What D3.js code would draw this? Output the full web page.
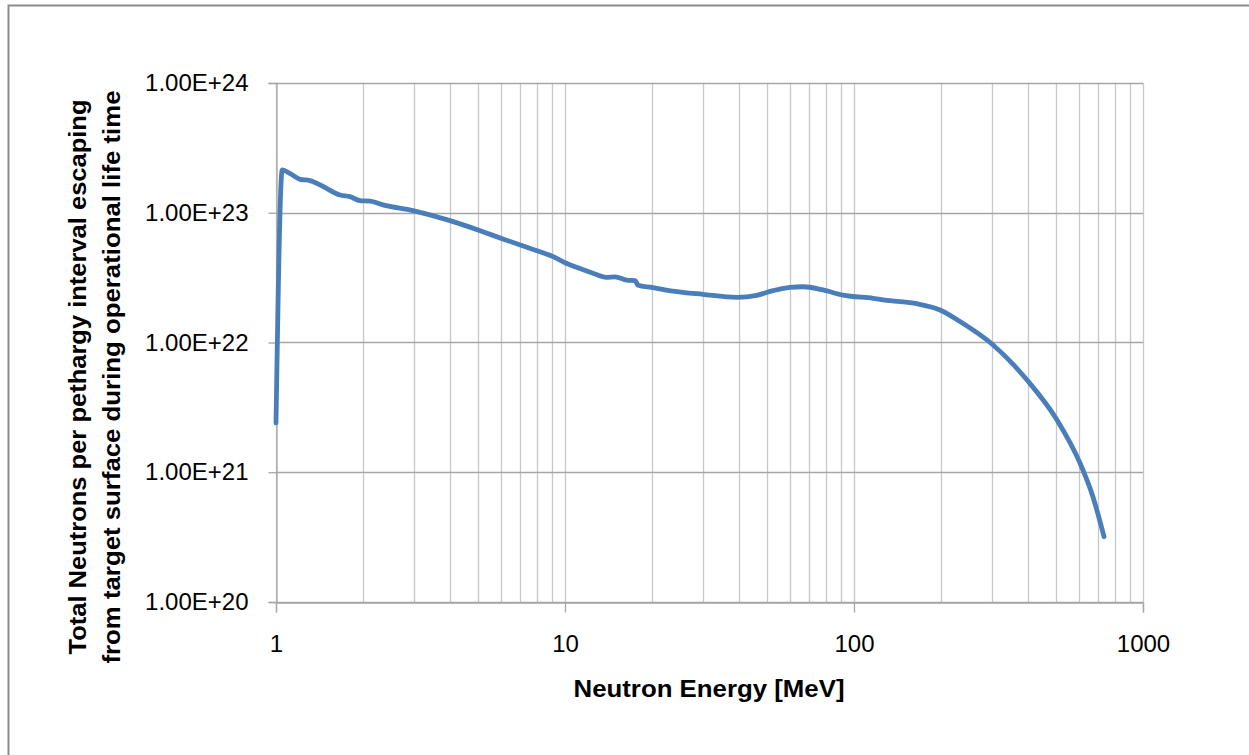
<!DOCTYPE html>
<html>
<head>
<meta charset="utf-8">
<script src="https://cdn.jsdelivr.net/npm/d3@7"></script>
<style>
  html, body { margin: 0; padding: 0; background: #fff; }
  svg { display: block; }
  .tick-label { font-family: "Liberation Sans", Arial, sans-serif; font-size: 24px; fill: #000; }
  .axis-title { font-family: "Liberation Sans", Arial, sans-serif; font-weight: bold; fill: #000; }
</style>
</head>
<body>
<svg id="chart" width="1249" height="755"></svg>
<script>
// Neutron energy (MeV) and escaping neutrons per lethargy interval
const energy = [
  1.0, 1.051, 1.12, 1.211, 1.311, 1.45, 1.665, 1.803, 1.953, 2.115, 2.345,
  2.98, 4.0, 5.2, 6.1, 8.19, 9.0, 10.0, 10.98, 12.5, 13.9, 14.9, 16.35,
  17.5, 17.9, 19.95, 23.6, 30.0, 39.3, 46.1, 52.5, 60.0, 66.6, 78.1, 91.6,
  116.4, 133.2, 165, 198.5, 232.7, 302.9, 396.9, 504, 605, 671, 733
];
const neutrons = [
  2.4e21, 2.14e23, 2.0e23, 1.81e23, 1.77e23, 1.6e23, 1.37e23, 1.33e23, 1.24e23, 1.23e23, 1.15e23,
  1.04e23, 8.69e22, 7.14e22, 6.28e22, 5.01e22, 4.64e22, 4.12e22, 3.80e22, 3.42e22, 3.18e22, 3.21e22, 3.03e22,
  3.0e22, 2.76e22, 2.66e22, 2.49e22, 2.35e22, 2.23e22, 2.31e22, 2.51e22, 2.66e22, 2.69e22, 2.54e22, 2.32e22,
  2.19e22, 2.10e22, 1.99e22, 1.78e22, 1.45e22, 9.57e21, 5.14e21, 2.53e21, 1.18e21, 6.48e20, 3.19e20
];

const xTickValues = [1, 10, 100, 1000];
const yTickValues = [1e20, 1e21, 1e22, 1e23, 1e24];

const xTitle = "Neutron Energy [MeV]";
const yTitleLines = [
  "Total Neutrons per pethargy interval escaping",
  "from target surface during operational life time"
];

const svg = d3.select("#chart");

// chart frame
svg.append("rect")
  .attr("x", 8.5).attr("y", 5.5)
  .attr("width", 1300).attr("height", 800)
  .attr("fill", "#fff")
  .attr("stroke", "#8c8c8c").attr("stroke-width", 2);

const x = d3.scaleLog().domain([1, 1000]).range([276, 1143]);
const y = d3.scaleLog().domain([1e20, 1e24]).range([602, 83]);

// vertical grid lines at 1..9 of each decade
const grid = svg.append("g");
grid.selectAll("line.vx")
  .data(x.ticks())
  .join("line")
  .attr("class", "vx")
  .attr("x1", d => Math.round(x(d)) + 0.5).attr("x2", d => Math.round(x(d)) + 0.5)
  .attr("y1", y(1e24)).attr("y2", y(1e20))
  .attr("stroke", "#c8c8c8").attr("stroke-width", 1.3);

// horizontal grid lines at each decade
grid.selectAll("line.hy")
  .data(yTickValues)
  .join("line")
  .attr("class", "hy")
  .attr("x1", x(1)).attr("x2", x(1000))
  .attr("y1", d => Math.round(y(d)) + 0.5).attr("y2", d => Math.round(y(d)) + 0.5)
  .attr("stroke", "#a6a6a6").attr("stroke-width", 1.3);

// y axis
const yAxis = svg.append("g")
  .attr("transform", `translate(${x(1) + 0.5},0)`)
  .call(d3.axisLeft(y).tickValues(yTickValues).tickSize(8).tickPadding(20)
    .tickFormat(d => d.toExponential(2).toUpperCase()));
yAxis.select(".domain").attr("stroke", "#a6a6a6").attr("stroke-width", 1.3);
yAxis.selectAll(".tick line").attr("stroke", "#a6a6a6").attr("stroke-width", 1.3);
yAxis.selectAll(".tick text").attr("class", "tick-label");
yAxis.attr("font-size", null).attr("font-family", null);

// x axis
const xAxis = svg.append("g")
  .attr("transform", `translate(0,${Math.round(y(1e20)) + 0.5})`)
  .call(d3.axisBottom(x).tickValues(xTickValues).tickSize(10).tickPadding(22)
    .tickFormat(d3.format("d")));
xAxis.select(".domain").attr("stroke", "#a6a6a6").attr("stroke-width", 1.3);
xAxis.selectAll(".tick line").attr("stroke", "#a6a6a6").attr("stroke-width", 1.3);
xAxis.selectAll(".tick text").attr("class", "tick-label");
xAxis.attr("font-size", null).attr("font-family", null);

// spectrum line
const line = d3.line()
  .x((d, i) => x(energy[i]))
  .y((d, i) => y(neutrons[i]))
  .curve(d3.curveMonotoneX);

svg.append("path")
  .datum(neutrons)
  .attr("d", line)
  .attr("fill", "none")
  .attr("stroke", "#4a7ebb")
  .attr("stroke-width", 4.8)
  .attr("stroke-linejoin", "round")
  .attr("stroke-linecap", "round");

// axis titles
svg.append("text")
  .attr("class", "axis-title")
  .attr("x", 709).attr("y", 697)
  .attr("text-anchor", "middle")
  .attr("font-size", 24)
  .attr("textLength", 271)
  .attr("lengthAdjust", "spacingAndGlyphs")
  .text(xTitle);

const yTitle = svg.append("text")
  .attr("class", "axis-title")
  .attr("transform", "translate(0,377) rotate(-90)")
  .attr("text-anchor", "middle")
  .attr("font-size", 24);
yTitle.append("tspan").attr("x", 0).attr("y", 86)
  .attr("textLength", 555).attr("lengthAdjust", "spacingAndGlyphs")
  .text(yTitleLines[0]);
yTitle.append("tspan").attr("x", 0).attr("y", 120)
  .attr("textLength", 573).attr("lengthAdjust", "spacingAndGlyphs")
  .text(yTitleLines[1]);
</script>
</body>
</html>
